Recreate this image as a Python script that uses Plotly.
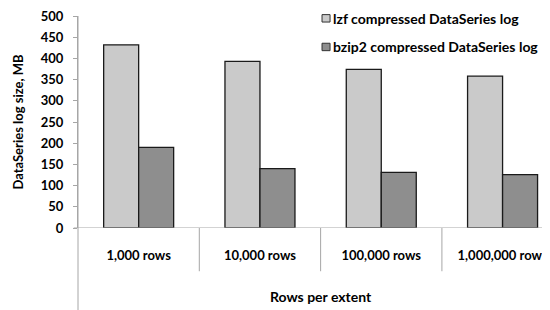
import plotly.graph_objects as go

categories = ["1,000 rows", "10,000 rows", "100,000 rows", "1,000,000 rows"]
series_names = ["lzf compressed DataSeries log", "bzip2 compressed DataSeries log"]
lzf_values = [432, 393, 374, 358]
bzip2_values = [190, 140, 131, 126]
y_ticks = [0, 50, 100, 150, 200, 250, 300, 350, 400, 450, 500]

FONT = "Lato"
FS = 14
TFS = 13
colors = ["#CACACA", "#8E8E8E"]
xpos = list(range(len(categories)))

fig = go.Figure()
for name, vals, col in zip(series_names, [lzf_values, bzip2_values], colors):
    fig.add_trace(go.Bar(
        x=xpos, y=vals, name=name,
        marker=dict(color=col, line=dict(color="#1a1a1a", width=1.3)),
    ))

shapes = []
# category separators
for b in [0.5, 1.5, 2.5]:
    shapes.append(dict(type="line", xref="x", yref="paper", x0=b, x1=b, y0=0, y1=-0.204,
                       line=dict(color="#A6A6A6", width=1)))
# left axis extension to bottom
shapes.append(dict(type="line", xref="paper", yref="paper", x0=0, x1=0, y0=-0.5, y1=1,
                   line=dict(color="#A6A6A6", width=1)))
# x axis baseline
shapes.append(dict(type="line", xref="paper", yref="y", x0=-0.009, x1=1, y0=0, y1=0,
                   line=dict(color="#A6A6A6", width=1)))

# manual legend (paper coords)
legend_rows_y = [0.989, 0.854]
annotations = []
for name, col, ly in zip(series_names, colors, legend_rows_y):
    shapes.append(dict(type="rect", xref="paper", yref="paper",
                       x0=0.517, x1=0.534, y0=ly - 0.0175, y1=ly + 0.0175,
                       fillcolor=col, line=dict(color="#333333", width=1)))
    annotations.append(dict(text=name, xref="paper", yref="paper", x=0.536, y=ly,
                            xanchor="left", yanchor="middle", showarrow=False,
                            font=dict(family=FONT, size=FS, color="#000", weight="bold")))

annotations.append(dict(text="Rows per extent", xref="x", yref="paper",
                        x=1.5, y=-0.321, xanchor="center", yanchor="middle",
                        showarrow=False,
                        font=dict(family=FONT, size=FS, color="#000", weight="bold")))

fig.update_layout(
    width=542, height=302,
    margin=dict(l=70, r=0, t=6, b=82),
    paper_bgcolor="white", plot_bgcolor="white",
    barmode="group", bargap=0.423, bargroupgap=0,
    font=dict(family=FONT, size=TFS, color="#000000", weight="bold"),
    shapes=shapes,
    annotations=annotations,
    showlegend=False,
    xaxis=dict(
        range=[-0.5, 3.391], tickvals=xpos, ticktext=categories,
        showline=False, showgrid=False, zeroline=False, ticks="",
        tickfont=dict(family=FONT, size=TFS, color="#000", weight="bold"),
        ticklabelstandoff=18, ticklabeloverflow="allow",
    ),
    yaxis=dict(
        range=[0, 500], tickvals=y_ticks, showgrid=False, zeroline=False,
        showline=True, linecolor="#A6A6A6", linewidth=1,
        ticks="outside", ticklen=4, tickcolor="#A6A6A6",
        tickfont=dict(family=FONT, size=TFS, color="#000", weight="bold"),
        ticklabelstandoff=7, ticklabeloverflow="allow",
        title=dict(text="DataSeries log size, MB",
                   font=dict(family=FONT, size=13, color="#000", weight="bold"),
                   standoff=14),
    ),
)

fig.write_html("out.html")
